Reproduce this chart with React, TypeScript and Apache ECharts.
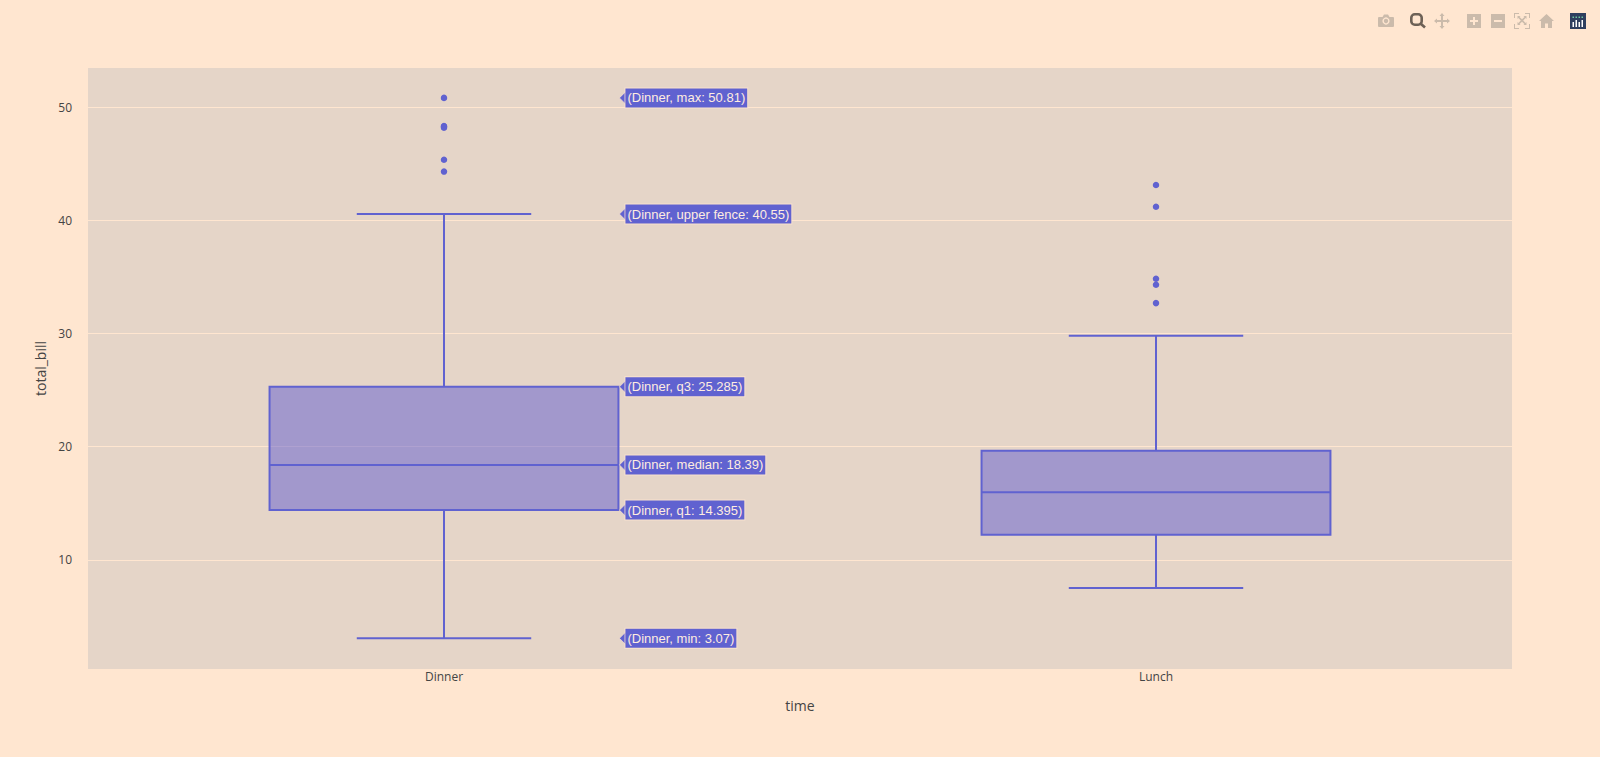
import React, { useEffect, useRef } from "react";
import * as echarts from "echarts";

const categories = ["Dinner", "Lunch"];
const yTicks = [10, 20, 30, 40, 50];
// [min, q1, median, q3, upper fence]
const dinnerBox = [3.07, 14.395, 18.39, 25.285, 40.55];
const lunchBox = [7.51, 12.23, 15.97, 19.63, 29.8];
const dinnerOutliers = [50.81, 48.33, 48.27, 48.17, 45.35, 44.3];
const lunchOutliers = [43.11, 41.19, 34.83, 34.3, 32.68];
const labelNames = ["max", "upper fence", "q3", "median", "q1", "min"];
const labelValues = [50.81, 40.55, 25.285, 18.39, 14.395, 3.07];

const PAPER = "#ffe6d0";
const PLOT = "#e5d5c8";
const BLUE = "#6062d0";
const ICON = "#cbbbab";
const FILL = "rgba(96,92,207,0.5)";

echarts.graphic.registerShape(
  "tbCamera",
  echarts.graphic.extendPath(
    "M1 3 L4.5 3 L6 0.5 L10 0.5 L11.5 3 L15 3 Q16 3 16 4 L16 12 Q16 13 15 13 L1 13 Q0 13 0 12 L0 4 Q0 3 1 3 Z",
    {}
  )
);
echarts.graphic.registerShape(
  "tbPan",
  echarts.graphic.extendPath(
    "M8 0 L10.5 3 L9 3 L9 7 L13 7 L13 5.5 L16 8 L13 10.5 L13 9 L9 9 L9 13 L10.5 13 L8 16 L5.5 13 L7 13 L7 9 L3 9 L3 10.5 L0 8 L3 5.5 L3 7 L7 7 L7 3 L5.5 3 Z",
    {}
  )
);
echarts.graphic.registerShape(
  "tbHome",
  echarts.graphic.extendPath(
    "M7.5 0 L15 7 L13 7 L13 14 L9 14 L9 9.5 L6 9.5 L6 14 L2 14 L2 7 L0 7 Z",
    {}
  )
);
echarts.graphic.registerShape(
  "tbAuto",
  echarts.graphic.extendPath(
    "M0 0 L5 0 L5 1 L1 1 L1 5 L0 5 Z M11 0 L16 0 L16 5 L15 5 L15 1 L11 1 Z M0 11 L1 11 L1 15 L5 15 L5 16 L0 16 Z M15 11 L16 11 L16 16 L11 16 L11 15 L15 15 Z M3.5 3 L6.5 3 L5.6 3.9 L8 6.3 L10.4 3.9 L9.5 3 L12.5 3 L12.5 6 L11.6 5.1 L9.2 7.5 L11.6 9.9 L12.5 9 L12.5 12 L9.5 12 L10.4 11.1 L8 8.7 L5.6 11.1 L6.5 12 L3.5 12 L3.5 9 L4.4 9.9 L6.8 7.5 L4.4 5.1 L3.5 6 Z",
    {}
  )
);

const toolbar: any[] = [
  { type: "tbCamera", x: 1378, y: 14, style: { fill: ICON } },
  { type: "circle", shape: { cx: 1386, cy: 21, r: 3.6 }, style: { fill: PAPER } },
  { type: "circle", shape: { cx: 1386, cy: 21, r: 2.2 }, style: { fill: ICON } },
  { type: "rect", shape: { x: 1411.3, y: 14.3, width: 10.4, height: 10.4, r: 3.5 }, style: { fill: "none", stroke: "#6d6156", lineWidth: 2.6 } },
  { type: "line", shape: { x1: 1420.5, y1: 23.5, x2: 1425, y2: 27.5 }, style: { stroke: "#6d6156", lineWidth: 2.6 } },
  { type: "tbPan", x: 1434, y: 13, style: { fill: ICON } },
  { type: "rect", shape: { x: 1467, y: 14, width: 14, height: 14 }, style: { fill: ICON } },
  { type: "rect", shape: { x: 1470, y: 20, width: 8, height: 2 }, style: { fill: PAPER } },
  { type: "rect", shape: { x: 1473, y: 17, width: 2, height: 8 }, style: { fill: PAPER } },
  { type: "rect", shape: { x: 1491, y: 14, width: 14, height: 14 }, style: { fill: ICON } },
  { type: "rect", shape: { x: 1494, y: 20, width: 8, height: 2 }, style: { fill: PAPER } },
  { type: "tbAuto", x: 1514, y: 13, style: { fill: ICON } },
  { type: "tbHome", x: 1539, y: 14, style: { fill: ICON } },
  { type: "rect", shape: { x: 1570, y: 13, width: 16, height: 16 }, style: { fill: "#2f3f5f" } },
  ...[1572.5, 1575.5, 1578.5, 1581.5].map((x, i) => ({
    type: "rect",
    shape: { x, y: i % 2 ? 20 : 22, width: 1.5, height: i % 2 ? 7 : 5 },
    style: { fill: "#ffffff" },
  })),
  ...[1572.5, 1575.5, 1578.5, 1581.5].map((x) => ({
    type: "rect",
    shape: { x, y: 16.5, width: 1.5, height: 1.5 },
    style: { fill: "#6fc7a0" },
  })),
];

const BOX_FRAC = 0.49;
const CAP_FRAC = 0.245;

function renderBox(params: any, api: any) {
  const cat = api.value(0);
  const [min, q1, med, q3, max] = [api.value(1), api.value(2), api.value(3), api.value(4), api.value(5)];
  const band = api.size([1, 0])[0];
  const cx = Math.round(api.coord([cat, 0])[0]);
  const half = (band * BOX_FRAC) / 2;
  const cap = (band * CAP_FRAC) / 2;
  const y = (v: number) => api.coord([cat, v])[1];
  const ln = { stroke: BLUE, lineWidth: 2, fill: "none" };
  const line = (x1: number, y1: number, x2: number, y2: number) => ({
    type: "line",
    shape: { x1, y1, x2, y2 },
    style: ln,
  });
  return {
    type: "group",
    children: [
      { type: "rect", shape: { x: cx - half, y: y(q3), width: half * 2, height: y(q1) - y(q3) }, style: { fill: FILL, stroke: BLUE, lineWidth: 2 } },
      line(cx - half, y(med), cx + half, y(med)),
      line(cx, y(q3), cx, y(max)),
      line(cx, y(q1), cx, y(min)),
      line(cx - cap, y(max), cx + cap, y(max)),
      line(cx - cap, y(min), cx + cap, y(min)),
    ],
  };
}

function renderLabel(params: any, api: any) {
  const cat = api.value(0);
  const v = api.value(1);
  const band = api.size([1, 0])[0];
  const [cx, cy] = api.coord([cat, v]);
  const ax = cx + (band * BOX_FRAC) / 2 + 1;
  const name = labelNames[params.dataIndexInside];
  const text = `(${categories[cat]}, ${name}: ${v})`;
  return {
    type: "group",
    children: [
      {
        type: "polygon",
        shape: { points: [[ax, cy], [ax + 7, cy - 7], [ax + 7, cy + 7]] },
        style: { fill: BLUE, stroke: "rgba(255,230,208,0.6)", lineWidth: 1 },
      },
      {
        type: "text",
        x: ax + 6,
        y: cy,
        style: {
          text,
          font: "13px Arial, 'Liberation Sans', sans-serif",
          fill: "#ffece0",
          backgroundColor: BLUE,
          borderColor: "rgba(255,230,208,0.75)",
          borderWidth: 1,
          padding: [3, 2, 3, 2],
          align: "left",
          verticalAlign: "middle",
        },
      },
    ],
  };
}

export default function App() {
  const ref = useRef<HTMLDivElement>(null);
  useEffect(() => {
    document.body.style.margin = "0";
    const chart = echarts.init(ref.current!, undefined, { renderer: "svg" });
    const axisFont = { fontFamily: "'Open Sans', sans-serif", color: "#444444" };
    chart.setOption({
      animation: false,
      backgroundColor: PAPER,
      grid: { left: 88, right: 88, top: 68, bottom: 88, show: true, backgroundColor: PLOT, borderWidth: 0 },
      xAxis: {
        type: "category",
        data: categories,
        name: "time",
        nameLocation: "middle",
        nameGap: 29,
        nameTextStyle: { ...axisFont, fontSize: 14 },
        axisLine: { show: false },
        axisTick: { show: false },
        axisLabel: { ...axisFont, fontSize: 12, margin: 1 },
        splitLine: { show: false },
      },
      yAxis: {
        type: "value",
        min: 0.36,
        max: 53.45,
        name: "total_bill",
        nameLocation: "middle",
        nameGap: 40,
        nameTextStyle: { ...axisFont, fontSize: 14 },
        axisLine: { show: false },
        axisTick: { show: false, customValues: yTicks },
        axisLabel: { ...axisFont, fontSize: 12, margin: 16, customValues: yTicks },
        splitLine: { show: true, lineStyle: { color: PAPER, width: 1 } },
      },
      series: [
        {
          type: "custom",
          renderItem: renderBox,
          data: [
            [0, ...dinnerBox],
            [1, ...lunchBox],
          ],
          encode: { x: 0, y: [1, 2, 3, 4, 5] },
          z: 3,
        },
        {
          type: "scatter",
          symbolSize: 6.5,
          itemStyle: { color: BLUE, opacity: 1 },
          data: [
            ...dinnerOutliers.map((v) => [0, v]),
            ...lunchOutliers.map((v) => [1, v]),
          ],
          z: 4,
        },
        {
          type: "custom",
          renderItem: renderLabel,
          data: labelValues.map((v) => [0, v]),
          encode: { x: 0, y: 1 },
          z: 5,
        },
      ],
      graphic: { elements: toolbar },
    });
    return () => chart.dispose();
  }, []);
  return (
    <div
      ref={ref}
      style={{ position: "absolute", left: 0, top: 0, width: 1600, height: 757 }}
    />
  );
}
